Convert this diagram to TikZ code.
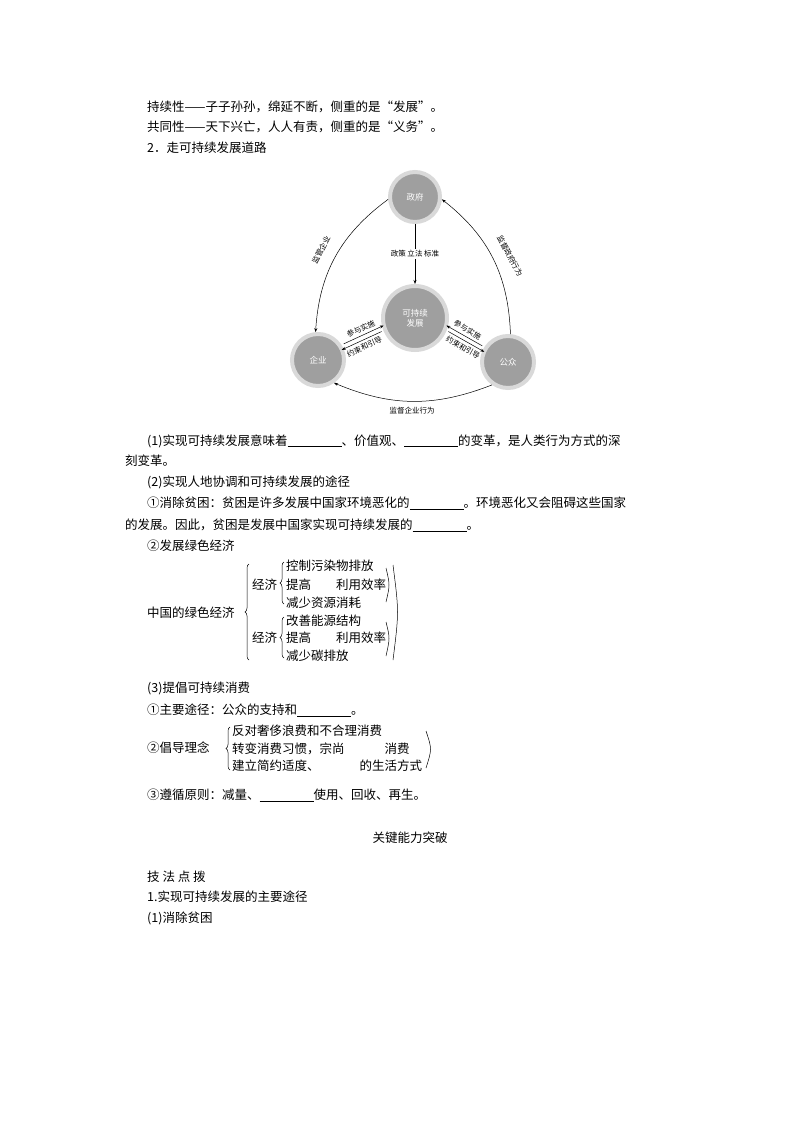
\documentclass[tikz,border=0pt]{standalone}
\usepackage{fontspec}
\setmainfont{Noto Sans CJK SC}
\usetikzlibrary{arrows.meta,decorations.pathreplacing}
\newcommand{\blankline}{\rule[-2pt]{54pt}{0.6pt}}
\begin{document}
\begin{tikzpicture}[x=1pt,y=-1pt,
  txt/.style={anchor=west,inner sep=0pt,font=\fontsize{12.5}{14}\selectfont},
  sm/.style={inner sep=0pt,font=\fontsize{7.5}{8}\selectfont},
  circ/.style={circle,fill=gray!75,draw=gray!30,line width=4pt,text=white,font=\fontsize{8.5}{10}\selectfont,align=center,inner sep=0pt},
  arr/.style={-{Stealth[length=4pt,width=3pt]},line width=0.5pt},
  rarr/.style={{Stealth[length=4pt,width=3pt]}-,line width=0.5pt},
  brc/.style={decorate,decoration={brace,amplitude=4pt},line width=0.5pt}]
\useasboundingbox (0,0) rectangle (794,1123);
\node[txt] (l1) at (147,107) {持续性——子子孙孙，绵延不断，侧重的是“发展”。};
\node[txt] (l2) at (147,127) {共同性——天下兴亡，人人有责，侧重的是“义务”。};
\node[txt] (l3) at (147,148) {2．走可持续发展道路};
% diagram
\node[circ,minimum size=50pt] (zf) at (415,197) {政府};
\node[circ,minimum size=64pt] (kc) at (415,318) {可持续\\发展};
\node[circ,minimum size=52pt] (qy) at (318,360) {企业};
\node[circ,minimum size=52pt] (gz) at (508,362) {公众};
\draw[arr] (zf) -- node[fill=white,sm,inner sep=2pt]{政策\ 立法\ 标准} (kc);
\draw[arr] (zf.185) to[bend right=25] (qy.95);
\node[sm,rotate=62] (t1) at (321,250) {监管企业};
\draw[arr] (gz.85) to[bend right=25] (zf.-5);
\node[sm,rotate=-62] (t2) at (510,256) {监督政府行为};
\draw[arr] (gz.235) to[bend left=22] (qy.-55);
\node[sm] (t3) at (412,411) {监督企业行为};
\draw[arr] ([shift={(1,-3)}]qy.28) -- node[sm,sloped,above=3pt]{参与实施} ([shift={(1,-3)}]kc.198);
\draw[rarr] ([shift={(-1,3)}]qy.28) -- node[sm,sloped,below=3pt]{约束和引导} ([shift={(-1,3)}]kc.198);
\draw[rarr] ([shift={(-1,-3)}]kc.-18) -- node[sm,sloped,above=3pt]{参与实施} ([shift={(-1,-3)}]gz.152);
\draw[arr] ([shift={(1,3)}]kc.-18) -- node[sm,sloped,below=3pt]{约束和引导} ([shift={(1,3)}]gz.152);
% text
\node[txt] (p1) at (147,441) {(1)实现可持续发展意味着\blankline、价值观、\blankline 的变革，是人类行为方式的深};
\node[txt] (p1b) at (125,461) {刻变革。};
\node[txt] (p2) at (147,482) {(2)实现人地协调和可持续发展的途径};
\node[txt] (p3) at (147,503) {①消除贫困：贫困是许多发展中国家环境恶化的\blankline。环境恶化又会阻碍这些国家};
\node[txt] (p3b) at (125,525) {的发展。因此，贫困是发展中国家实现可持续发展的\blankline。};
\node[txt] (p4) at (147,546) {②发展绿色经济};
\node[txt] (g0) at (147,613) {中国的绿色经济};
\draw[brc] (249,660) -- (249,564);
\node[txt] (ga) at (252,585) {经济};
\draw[brc] (284,604) -- (284,562);
\node[txt] (a1) at (286,566) {控制污染物排放};
\node[txt] (a2) at (286,585) {提高\hspace{2em}利用效率};
\node[txt] (a3) at (286,603) {减少资源消耗};
\node[txt] (gb) at (252,638) {经济};
\draw[brc] (284,658) -- (284,617);
\node[txt] (b1) at (286,621) {改善能源结构};
\node[txt] (b2) at (286,638) {提高\hspace{2em}利用效率};
\node[txt] (b3) at (286,656) {减少碳排放};
\draw[line width=0.5pt] (386,568) .. controls (390,585) .. (386,602);
\draw[line width=0.5pt] (386,622) .. controls (390,638) .. (386,656);
\draw[line width=0.5pt] (393,565) .. controls (399,612) .. (393,660);
\node[txt] (c1) at (147,688) {(3)提倡可持续消费};
\node[txt] (c2) at (147,710) {①主要途径：公众的支持和\blankline。};
\node[txt] (c3) at (147,748) {②倡导理念};
\draw[brc] (230,770) -- (230,727);
\node[txt] (d1) at (232,731) {反对奢侈浪费和不合理消费};
\node[txt] (d2) at (232,749) {转变消费习惯，宗尚\hspace{3.2em}消费};
\node[txt] (d3) at (232,766) {建立简约适度、\hspace{3.2em}的生活方式};
\draw[line width=0.5pt] (426,731) .. controls (432,749) .. (426,768);
\node[txt] (c4) at (147,795) {③遵循原则：减量、\blankline 使用、回收、再生。};
\node[txt,anchor=center] (h) at (410,838) {关键能力突破};
\node[txt] (e1) at (147,877) {技\ 法\ 点\ 拨};
\node[txt] (e2) at (147,897) {1.实现可持续发展的主要途径};
\node[txt] (e3) at (147,918) {(1)消除贫困};
\end{tikzpicture}
\end{document}
